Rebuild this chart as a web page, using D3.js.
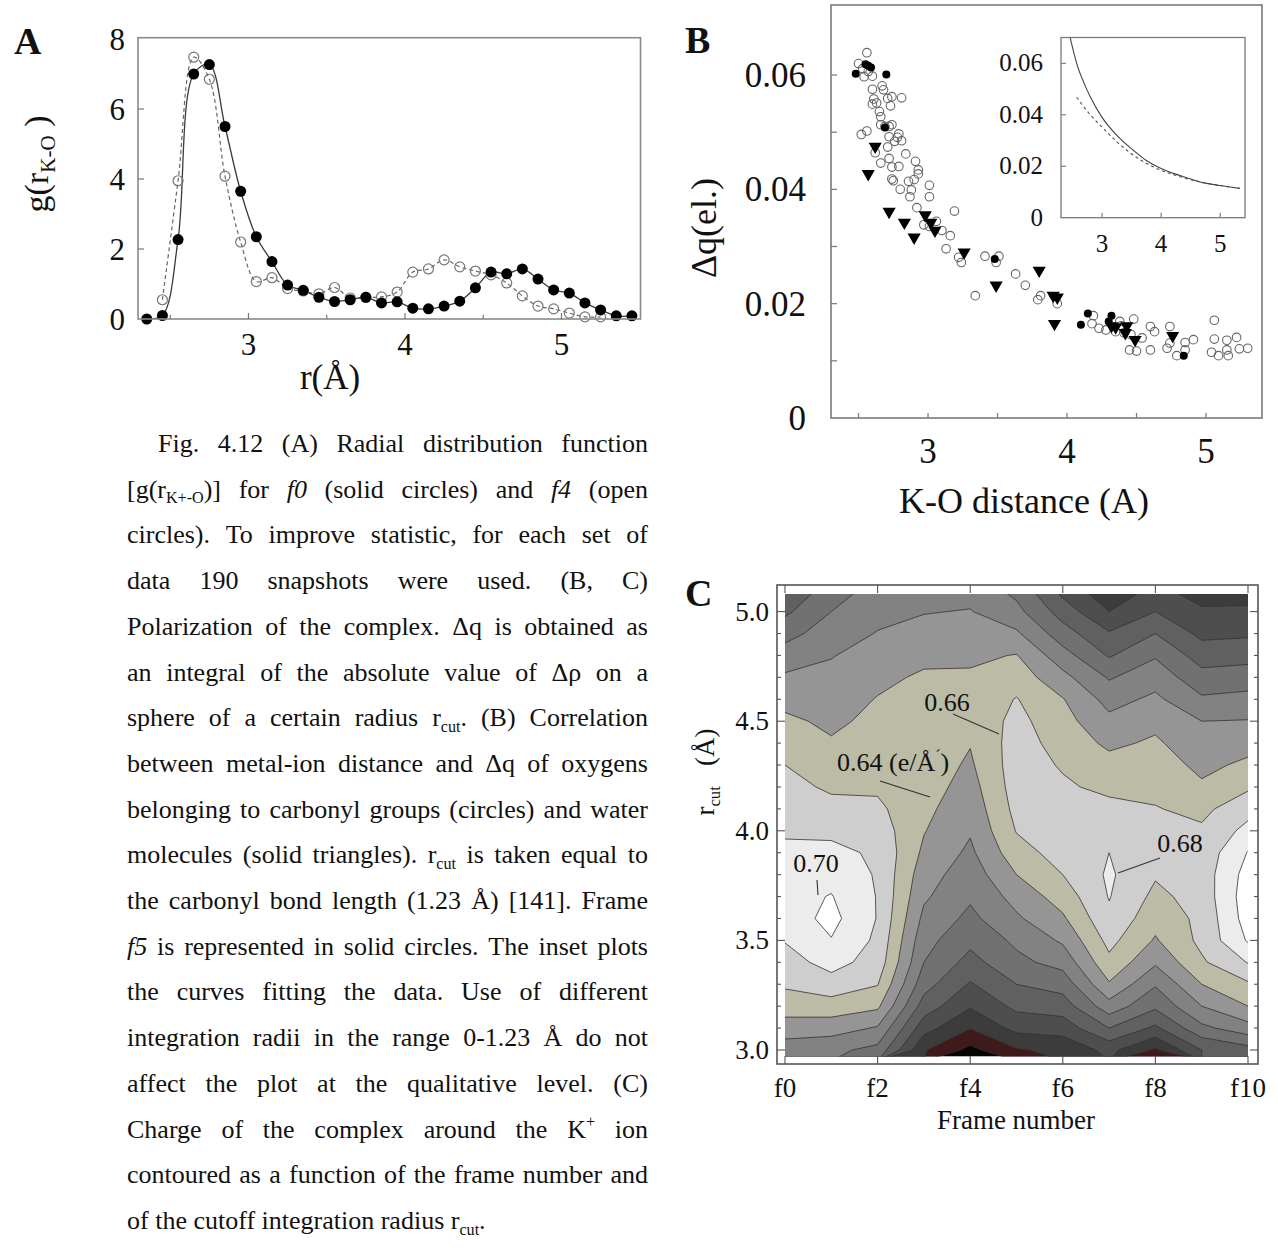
<!DOCTYPE html>
<html>
<head>
<meta charset="utf-8">
<script src="https://cdn.jsdelivr.net/npm/d3@7"></script>
<style>
  body { margin: 0; background: #fff; }
  svg text { font-family: "Liberation Serif", "Times New Roman", serif; fill: #111; }
</style>
</head>
<body>
<svg id="fig" width="1278" height="1253"></svg>
<script>
// ---------------- Panel A : g(r K-O) ----------------
const rdfR0 = [2.35,2.45,2.55,2.65,2.75,2.85,2.95,3.05,3.15,3.25,3.35,3.45,3.55,3.65,3.75,3.85,
               3.95,4.05,4.15,4.25,4.35,4.45,4.55,4.65,4.75,4.85,4.95,5.05,5.15,5.25,5.35,5.45];
const rdfF0 = [0,0.1,2.27,7.0,7.27,5.5,3.65,2.35,1.64,0.97,0.82,0.62,0.5,0.55,0.62,0.46,
               0.49,0.31,0.29,0.37,0.51,0.89,1.34,1.29,1.43,1.14,0.83,0.74,0.46,0.26,0.09,0.09];
const rdfR4 = [2.45,2.55,2.65,2.75,2.85,2.95,3.05,3.15,3.25,3.35,3.45,3.55,3.65,3.75,3.85,
               3.95,4.05,4.15,4.25,4.35,4.45,4.55,4.65,4.75,4.85,4.95,5.05,5.15,5.25];
const rdfF4 = [0.55,3.95,7.48,6.85,4.08,2.2,1.07,1.18,0.87,0.8,0.72,0.9,0.6,0.62,0.63,
               0.77,1.34,1.43,1.69,1.49,1.37,1.26,1.03,0.66,0.37,0.29,0.17,0.06,0.06];
const aTicksMajor = [3, 4, 5];
const aTicksMinor = [2.5, 3.5, 4.5];
const aYTicks = [0, 2, 4, 6, 8];

// ---------------- Panel B : delta q vs K-O distance ----------------
const openX = [2.56,2.50,2.53,2.54,2.60,2.57,2.60,2.67,2.68,2.61,2.63,2.60,2.71,2.74,2.81,2.73,2.65,2.66,2.66,2.69,
               2.72,2.74,2.79,2.78,2.76,2.81,2.72,2.52,2.56,2.71,2.84,2.62,2.72,2.91,2.66,2.74,2.79,2.93,2.93,2.74,
               2.75,2.86,2.90,2.88,2.80,2.87,3.01,3.01,2.92,3.19,2.97,3.01,3.06,3.10,3.16,3.13,3.22,3.24,3.41,3.51,
               3.49,3.34,3.63,3.70,3.81,3.79,3.93,4.19,4.18,4.23,4.28,4.38,4.39,4.48,4.41,4.46,4.54,4.45,4.50,4.60,
               4.60,4.63,4.74,4.72,4.74,4.79,4.85,4.91,4.85,5.06,5.06,5.04,5.09,5.15,5.15,5.16,5.22,5.24,5.30,4.35];
const openY = [0.0639,0.0620,0.0611,0.0597,0.0598,0.0606,0.0575,0.0581,0.0574,0.0558,0.0551,0.0549,0.0559,0.0562,0.0560,0.0546,0.0536,0.0527,0.0513,0.0510,
               0.0510,0.0513,0.0497,0.0491,0.0484,0.0485,0.0492,0.0496,0.0502,0.0474,0.0462,0.0464,0.0454,0.0449,0.0446,0.0439,0.0440,0.0434,0.0427,0.0418,
               0.0415,0.0414,0.0417,0.0399,0.0400,0.0387,0.0407,0.0387,0.0368,0.0362,0.0338,0.0335,0.0344,0.0328,0.0319,0.0296,0.0281,0.0272,0.0283,0.0283,
               0.0272,0.0214,0.0252,0.0232,0.0214,0.0207,0.0200,0.0179,0.0165,0.0157,0.0154,0.0169,0.0161,0.0173,0.0149,0.0146,0.0140,0.0119,0.0117,0.0119,
               0.0160,0.0151,0.0160,0.0122,0.0131,0.0109,0.0132,0.0137,0.0119,0.0171,0.0138,0.0115,0.0109,0.0136,0.0119,0.0109,0.0141,0.0121,0.0122,0.0151];
const solidX = [2.48,2.55,2.57,2.59,2.70,2.69,3.48,4.10,4.15,4.30,4.32,4.84];
const solidY = [0.0602,0.0619,0.0616,0.0613,0.0601,0.0508,0.0278,0.0163,0.0183,0.0169,0.0179,0.0109];
const triX = [2.62,2.57,2.72,2.83,2.90,2.98,3.02,3.05,3.26,3.49,3.80,3.90,3.93,3.91,4.32,4.35,4.42,4.43,4.49,4.76];
const triY = [0.0475,0.0427,0.0361,0.0342,0.0316,0.0355,0.0342,0.0328,0.0290,0.0232,0.0258,0.0214,0.0211,0.0165,0.0161,0.0159,0.0149,0.0161,0.0137,0.0144];
const bXTicks = [2.5, 3, 3.5, 4, 4.5, 5];
const bXLabels = [3, 4, 5];
const bYTicks = [0.01, 0.02, 0.03, 0.04, 0.05, 0.06];
const bYLabels = [0, 0.02, 0.04, 0.06];

// inset: fitted curves
const fitSolidX = [2.46,2.57,2.7,2.8,3.0,3.25,3.53,3.75,4.0,4.33,4.66,5.0,5.33];
const fitSolidY = [0.070,0.060,0.052,0.047,0.039,0.032,0.0262,0.0222,0.0191,0.0163,0.0139,0.0125,0.0114];
const fitDashX = [2.57,2.8,3.0,3.25,3.53,3.87,4.2,4.6,5.0,5.33];
const fitDashY = [0.0468,0.0400,0.0352,0.0295,0.0243,0.0197,0.0168,0.0142,0.0125,0.0114];
const insetXTicks = [3, 4, 5];
const insetYTicks = [0, 0.02, 0.04, 0.06];

// ---------------- Panel C : charge contour ----------------
const frameLabels = ["f0","f2","f4","f6","f8","f10"];
const rRows = [3.0,3.1,3.2,3.3,3.4,3.5,3.6,3.7,3.8,3.9,4.0,4.1,4.2,4.3,4.4,4.5,4.6,4.7,4.8,4.9,5.0,5.1];
const qF0 = [0.609,0.631,0.649,0.663,0.672,0.681,0.689,0.693,0.691,0.685,0.677,0.671,0.666,0.660,0.652,0.644,0.634,0.623,0.609,0.593,0.576,0.560];
const qF1 = [0.605,0.629,0.651,0.672,0.687,0.699,0.706,0.701,0.694,0.685,0.676,0.666,0.657,0.649,0.642,0.636,0.630,0.625,0.619,0.610,0.600,0.590];
const qF2 = [0.594,0.618,0.644,0.661,0.672,0.676,0.679,0.679,0.678,0.677,0.671,0.664,0.657,0.654,0.649,0.645,0.641,0.635,0.628,0.621,0.614,0.607];
const qF3 = [0.522,0.548,0.571,0.588,0.600,0.607,0.615,0.623,0.629,0.636,0.641,0.645,0.649,0.651,0.652,0.650,0.647,0.643,0.635,0.627,0.619,0.612];
const qF4 = [0.494,0.521,0.542,0.558,0.573,0.585,0.595,0.603,0.609,0.616,0.622,0.627,0.632,0.637,0.641,0.645,0.646,0.643,0.636,0.629,0.621,0.613];
const qF5 = [0.518,0.546,0.565,0.580,0.595,0.604,0.617,0.627,0.640,0.652,0.661,0.666,0.669,0.670,0.669,0.666,0.661,0.651,0.641,0.623,0.606,0.594];
const qF6 = [0.525,0.549,0.570,0.588,0.607,0.623,0.637,0.649,0.660,0.668,0.673,0.672,0.663,0.658,0.652,0.647,0.641,0.626,0.608,0.589,0.571,0.553];
const qF7 = [0.546,0.580,0.612,0.638,0.655,0.666,0.676,0.681,0.683,0.680,0.674,0.666,0.655,0.647,0.636,0.625,0.613,0.598,0.578,0.562,0.540,0.525];
const qF8 = [0.517,0.556,0.584,0.602,0.623,0.638,0.647,0.655,0.662,0.665,0.665,0.661,0.655,0.650,0.643,0.635,0.624,0.612,0.598,0.580,0.560,0.545];
const qF9 = [0.560,0.595,0.620,0.640,0.657,0.665,0.665,0.668,0.669,0.667,0.663,0.655,0.643,0.635,0.627,0.620,0.603,0.587,0.571,0.555,0.543,0.530];
const qF10 = [0.572,0.612,0.640,0.657,0.681,0.702,0.709,0.711,0.708,0.701,0.686,0.673,0.657,0.644,0.633,0.621,0.606,0.590,0.573,0.557,0.543,0.532];
const qLevels = [0.50,0.52,0.54,0.56,0.58,0.60,0.62,0.64,0.66,0.68,0.70];
const qColors = ["#3e1a1a","#3c3c3c","#4e4e4e","#606060","#717171","#828282","#959595","#bbbba6","#cecece","#ececec","#ffffff"];
const rTicks = [3.0, 3.5, 4.0, 4.5, 5.0];

// ---------------- caption ----------------
const captionLines = [
  "Fig. 4.12 (A) Radial distribution function",
  "[g(r_{K+-O})] for *f0* (solid circles) and *f4* (open",
  "circles). To improve statistic, for each set of",
  "data 190 snapshots were used. (B, C)",
  "Polarization of the complex. Δq is obtained as",
  "an integral of the absolute value of Δρ on a",
  "sphere of a certain radius r_{cut}. (B) Correlation",
  "between metal-ion distance and Δq of oxygens",
  "belonging to carbonyl groups (circles) and water",
  "molecules (solid triangles). r_{cut} is taken equal to",
  "the carbonyl bond length (1.23 Å) [141]. Frame",
  "*f5* is represented in solid circles. The inset plots",
  "the curves fitting the data. Use of different",
  "integration radii in the range 0-1.23 Å do not",
  "affect the plot at the qualitative level. (C)",
  "Charge of the complex around the K^{+} ion",
  "contoured as a function of the frame number and",
  "of the cutoff integration radius r_{cut}."
];

let svg = d3.select("#fig");

// text with _{sub}, ^{sup} and *italic* pieces
function richText(g, str, x, y, size) {
  let t = g.append("text").attr("x", x).attr("y", y).attr("font-size", size);
  let shift = 0;
  let parts = str.match(/_\{[^}]*\}|\^\{[^}]*\}|\*[^*]*\*|[^_^*]+/g) || [];
  parts.forEach(function(p) {
    let txt = p, target = 0, fs = null, italic = false;
    if (p.startsWith("_{")) { txt = p.slice(2, -1); target = size * 0.22; fs = size * 0.62; }
    else if (p.startsWith("^{")) { txt = p.slice(2, -1); target = -size * 0.4; fs = size * 0.62; }
    else if (p.startsWith("*")) { txt = p.slice(1, -1); italic = true; }
    let ts = t.append("tspan").text(txt).attr("dy", target - shift);
    if (fs) ts.attr("font-size", fs);
    if (italic) ts.attr("font-style", "italic");
    shift = target;
  });
  return t;
}

function panelLetter(txt, x, y) {
  svg.append("text").attr("x", x).attr("y", y).attr("font-size", 38)
    .attr("font-weight", "bold").text(txt);
}

// ================= Panel A =================
let ax = d3.scaleLinear().domain([2.294, 5.505]).range([138, 640.5]);
let ay = d3.scaleLinear().domain([0, 8]).range([319, 39]);
let gA = svg.append("g");
let aTop = 37.7;

svg.append("clipPath").attr("id", "clipA").append("rect")
  .attr("x", ax.range()[0]).attr("y", aTop)
  .attr("width", ax.range()[1] - ax.range()[0]).attr("height", ay(0) - aTop);

let aLine = d3.line().x(d => ax(d[0])).y(d => ay(d[1])).curve(d3.curveCatmullRom.alpha(0.5));
let f0pts = rdfR0.map((r, i) => [r, rdfF0[i]]);
let f4pts = rdfR4.map((r, i) => [r, rdfF4[i]]);

gA.append("path").attr("d", aLine(f4pts)).attr("clip-path", "url(#clipA)")
  .attr("fill", "none").attr("stroke", "#666").attr("stroke-width", 1.2).attr("stroke-dasharray", "4,3");
gA.append("path").attr("d", aLine(f0pts)).attr("clip-path", "url(#clipA)")
  .attr("fill", "none").attr("stroke", "#3a3a3a").attr("stroke-width", 1.3);

gA.selectAll(".o4").data(f4pts).join("circle")
  .attr("cx", d => ax(d[0])).attr("cy", d => ay(d[1])).attr("r", 5)
  .attr("fill", "none").attr("stroke", "#777").attr("stroke-width", 1.2);
gA.selectAll(".s0").data(f0pts).join("circle")
  .attr("cx", d => ax(d[0])).attr("cy", d => ay(d[1])).attr("r", 5.5).attr("fill", "#000");

gA.append("rect").attr("x", ax.range()[0]).attr("y", aTop)
  .attr("width", ax.range()[1] - ax.range()[0]).attr("height", ay(0) - aTop)
  .attr("fill", "none").attr("stroke", "#8a8a8a").attr("stroke-width", 1.6);

aTicksMajor.concat(aTicksMinor).forEach(function(v) {
  let len = aTicksMajor.includes(v) ? 6 : 4;
  gA.append("line").attr("x1", ax(v)).attr("x2", ax(v)).attr("y1", ay(0)).attr("y2", ay(0) - len)
    .attr("stroke", "#777").attr("stroke-width", 1.2);
});
aYTicks.slice(1, 4).forEach(function(v) {
  gA.append("line").attr("x1", ax.range()[0]).attr("x2", ax.range()[0] + 6)
    .attr("y1", ay(v)).attr("y2", ay(v)).attr("stroke", "#777").attr("stroke-width", 1.2);
});
aTicksMajor.forEach(function(v) {
  gA.append("text").attr("x", ax(v)).attr("y", 355).attr("text-anchor", "middle")
    .attr("font-size", 31).text(v);
});
aYTicks.forEach(function(v) {
  gA.append("text").attr("x", 125).attr("y", ay(v) + 11).attr("text-anchor", "end")
    .attr("font-size", 31).text(v);
});
gA.append("text").attr("x", 330).attr("y", 389).attr("text-anchor", "middle")
  .attr("font-size", 35).text("r(Å)");
richText(gA, "g(r_{K-O}\u00a0)", 0, 0, 34)
  .attr("text-anchor", "middle").attr("transform", "translate(48,164) rotate(-90)");
panelLetter("A", 14, 54);

// ================= Panel B =================
let bx = d3.scaleLinear().domain([2.302, 5.403]).range([831, 1262]);
let by = d3.scaleLinear().domain([0, 0.06]).range([418, 75]);
let bTop = 5;
let gB = svg.append("g");

gB.append("rect").attr("x", bx.range()[0]).attr("y", bTop)
  .attr("width", bx.range()[1] - bx.range()[0]).attr("height", by(0) - bTop)
  .attr("fill", "none").attr("stroke", "#7a7a7a").attr("stroke-width", 1.6);
bXTicks.forEach(function(v) {
  gB.append("line").attr("x1", bx(v)).attr("x2", bx(v)).attr("y1", by(0)).attr("y2", by(0) - 5)
    .attr("stroke", "#777").attr("stroke-width", 1.2);
});
bYTicks.forEach(function(v) {
  gB.append("line").attr("x1", bx.range()[0]).attr("x2", bx.range()[0] + 6)
    .attr("y1", by(v)).attr("y2", by(v)).attr("stroke", "#777").attr("stroke-width", 1.2);
});
bXLabels.forEach(function(v) {
  gB.append("text").attr("x", bx(v)).attr("y", 463).attr("text-anchor", "middle")
    .attr("font-size", 35).text(v);
});
bYLabels.forEach(function(v) {
  gB.append("text").attr("x", 806).attr("y", by(v) + 12).attr("text-anchor", "end")
    .attr("font-size", 35).text(v === 0 ? "0" : d3.format(".2f")(v));
});
gB.append("text").attr("x", 1024).attr("y", 513).attr("text-anchor", "middle")
  .attr("font-size", 36).text("K-O distance (A)");
gB.append("text").attr("text-anchor", "middle").attr("font-size", 36)
  .attr("transform", "translate(716,228) rotate(-90)").text("Δq(el.)");
panelLetter("B", 685, 53);

gB.selectAll(".bo").data(openX.map((x, i) => [x, openY[i]])).join("circle")
  .attr("cx", d => bx(d[0])).attr("cy", d => by(d[1])).attr("r", 4.3)
  .attr("fill", "none").attr("stroke", "#666").attr("stroke-width", 1.1);
let tri = d3.symbol().type(d3.symbolTriangle).size(75);
gB.selectAll(".bt").data(triX.map((x, i) => [x, triY[i]])).join("path")
  .attr("d", tri).attr("fill", "#000")
  .attr("transform", d => "translate(" + bx(d[0]) + "," + by(d[1]) + ") rotate(180)");
gB.selectAll(".bs").data(solidX.map((x, i) => [x, solidY[i]])).join("circle")
  .attr("cx", d => bx(d[0])).attr("cy", d => by(d[1])).attr("r", 4).attr("fill", "#000");

// inset
let ix = d3.scaleLinear().domain([2.305, 5.42]).range([1061, 1245]);
let iy = d3.scaleLinear().domain([0, 0.06]).range([217.7, 63.3]);
let iTop = 37.5;
let gI = svg.append("g");
gI.append("rect").attr("x", ix.range()[0]).attr("y", iTop)
  .attr("width", ix.range()[1] - ix.range()[0]).attr("height", iy(0) - iTop)
  .attr("fill", "#fff").attr("stroke", "#7a7a7a").attr("stroke-width", 1.3);
svg.append("clipPath").attr("id", "clipI").append("rect")
  .attr("x", ix.range()[0]).attr("y", iTop)
  .attr("width", ix.range()[1] - ix.range()[0]).attr("height", iy(0) - iTop);
let iLine = d3.line().x(d => ix(d[0])).y(d => iy(d[1])).curve(d3.curveMonotoneX);
gI.append("path").attr("d", iLine(fitDashX.map((x, i) => [x, fitDashY[i]]))).attr("clip-path", "url(#clipI)")
  .attr("fill", "none").attr("stroke", "#555").attr("stroke-width", 1.1).attr("stroke-dasharray", "3,3");
gI.append("path").attr("d", iLine(fitSolidX.map((x, i) => [x, fitSolidY[i]]))).attr("clip-path", "url(#clipI)")
  .attr("fill", "none").attr("stroke", "#444").attr("stroke-width", 1.1);
insetXTicks.forEach(function(v) {
  gI.append("line").attr("x1", ix(v)).attr("x2", ix(v)).attr("y1", iy(0)).attr("y2", iy(0) - 5)
    .attr("stroke", "#777").attr("stroke-width", 1.1);
  gI.append("text").attr("x", ix(v)).attr("y", 252).attr("text-anchor", "middle")
    .attr("font-size", 25).text(v);
});
insetYTicks.forEach(function(v) {
  if (v > 0) gI.append("line").attr("x1", ix.range()[0]).attr("x2", ix.range()[0] + 5)
    .attr("y1", iy(v)).attr("y2", iy(v)).attr("stroke", "#777").attr("stroke-width", 1.1);
  gI.append("text").attr("x", 1043).attr("y", iy(v) + 8).attr("text-anchor", "end")
    .attr("font-size", 25).text(v === 0 ? "0" : d3.format(".2f")(v));
});

// ================= Panel C =================
let cx = d3.scaleLinear().domain([0, 10]).range([785, 1248]);
let cy = d3.scaleLinear().domain([3, 5]).range([1050, 611.6]);
let gC = svg.append("g");
let cols = [qF0, qF1, qF2, qF3, qF4, qF5, qF6, qF7, qF8, qF9, qF10];
let nx = cols.length, ny = rRows.length;
let grid = new Array(nx * ny);
for (let j = 0; j < ny; j++) for (let i = 0; i < nx; i++) grid[i + j * nx] = cols[i][j];

let idxF = d3.scaleLinear().domain([0, nx - 1]).range([0, 10]);
let idxR = d3.scaleLinear().domain([0, ny - 1]).range([rRows[0], rRows[ny - 1]]);
let proj = d3.geoTransform({
  point: function(x, y) { this.stream.point(cx(idxF(x - 0.5)), cy(idxR(y - 0.5))); }
});
let cPath = d3.geoPath(proj);
let bands = d3.contours().size([nx, ny]).thresholds(qLevels)(grid);

let cTop = cy(5.08), cBot = cy(2.97);
svg.append("clipPath").attr("id", "clipC").append("rect")
  .attr("x", cx(0)).attr("y", cTop).attr("width", cx(10) - cx(0)).attr("height", cBot - cTop);
let gMap = gC.append("g").attr("clip-path", "url(#clipC)");
gMap.append("rect").attr("x", cx(0)).attr("y", cTop).attr("width", cx(10) - cx(0))
  .attr("height", cBot - cTop).attr("fill", "#050505");
gMap.selectAll("path").data(bands).join("path")
  .attr("d", cPath)
  .attr("fill", (d, i) => qColors[i])
  .attr("stroke", "#3d2e2e").attr("stroke-width", 0.8);

// frame and ticks
let fL = 777, fR = 1258, fT = 585, fB = 1064;
gC.append("rect").attr("x", fL).attr("y", fT).attr("width", fR - fL).attr("height", fB - fT)
  .attr("fill", "none").attr("stroke", "#555").attr("stroke-width", 1.6);
d3.range(30, 51).forEach(function(k) {
  let v = k / 10, len = (k % 5 === 0) ? 8 : 4;
  gC.append("line").attr("x1", fL).attr("x2", fL + len).attr("y1", cy(v)).attr("y2", cy(v))
    .attr("stroke", "#555").attr("stroke-width", 1.1);
  gC.append("line").attr("x1", fR).attr("x2", fR - len).attr("y1", cy(v)).attr("y2", cy(v))
    .attr("stroke", "#555").attr("stroke-width", 1.1);
});
frameLabels.forEach(function(lab, k) {
  let x = cx(k * 2);
  gC.append("line").attr("x1", x).attr("x2", x).attr("y1", fT).attr("y2", fT + 8)
    .attr("stroke", "#555").attr("stroke-width", 1.1);
  gC.append("line").attr("x1", x).attr("x2", x).attr("y1", fB).attr("y2", fB - 8)
    .attr("stroke", "#555").attr("stroke-width", 1.1);
  gC.append("text").attr("x", x).attr("y", 1097).attr("text-anchor", "middle")
    .attr("font-size", 27).text(lab);
});
rTicks.forEach(function(v) {
  gC.append("text").attr("x", 769).attr("y", cy(v) + 9).attr("text-anchor", "end")
    .attr("font-size", 27).text(d3.format(".1f")(v));
});
gC.append("text").attr("x", 1016).attr("y", 1129).attr("text-anchor", "middle")
  .attr("font-size", 27).text("Frame number");
richText(gC, "r_{cut}\u00a0\u00a0\u00a0(Å)", 0, 0, 27)
  .attr("text-anchor", "middle").attr("transform", "translate(714,772) rotate(-90)");
panelLetter("C", 685, 606);

// contour labels
function leader(pts) {
  gC.append("path").attr("d", d3.line()(pts)).attr("fill", "none")
    .attr("stroke", "#333").attr("stroke-width", 1.1);
}
gC.append("text").attr("x", 947).attr("y", 711).attr("text-anchor", "middle")
  .attr("font-size", 26).text("0.66");
leader([[953, 714], [999, 734]]);
richText(gC, "0.64 (e/Å^{ˊ})", 837, 771, 26);
leader([[880, 781], [930, 797]]);
gC.append("text").attr("x", 816).attr("y", 872).attr("text-anchor", "middle")
  .attr("font-size", 26).text("0.70");
leader([[817, 880], [818, 895]]);
gC.append("text").attr("x", 1180).attr("y", 852).attr("text-anchor", "middle")
  .attr("font-size", 26).text("0.68");
leader([[1160, 858], [1118, 873]]);

// ================= Caption =================
let gCap = svg.append("g");
let capLeft = 127, capRight = 648, capIndent = 158, capTop = 452, capStep = 45.7, capSize = 26;
captionLines.forEach(function(line, k) {
  let y = capTop + k * capStep;
  let left = k === 0 ? capIndent : capLeft;
  let words = line.split(/\s+/);
  let nodes = words.map(w => richText(gCap, w, 0, y, capSize));
  let widths = nodes.map(n => n.node().getComputedTextLength());
  let total = d3.sum(widths);
  let last = k === captionLines.length - 1;
  let gap = last ? capSize * 0.25 : (capRight - left - total) / (words.length - 1);
  let x = left;
  nodes.forEach(function(n, i) { n.attr("x", x); x += widths[i] + gap; });
});
</script>
</body>
</html>
